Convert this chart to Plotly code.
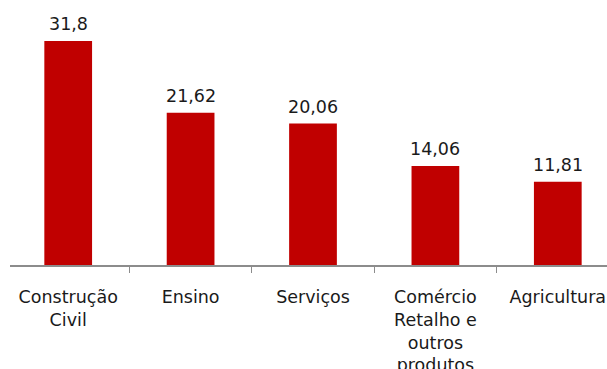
import plotly.graph_objects as go

categories = ["Construção<br>Civil", "Ensino", "Serviços", "Comércio<br>Retalho e<br>outros<br>produtos", "Agricultura"]
values = [31.8, 21.62, 20.06, 14.06, 11.81]
value_labels = ["31,8", "21,62", "20,06", "14,06", "11,81"]

FONT = "DejaVu Sans"

fig = go.Figure()
fig.add_trace(go.Bar(
    x=categories, y=values,
    marker=dict(color="#C00000", line=dict(width=0)),
    width=0.39, hoverinfo="skip",
))
for c, v, t in zip(categories, values, value_labels):
    fig.add_annotation(x=c, y=v, text=t, showarrow=False, yanchor="bottom",
                       yshift=5, font=dict(family=FONT, size=17.5, color="#1a1a1a"))

fig.update_layout(
    width=607, height=369,
    margin=dict(l=9.5, r=0, t=0, b=104),
    paper_bgcolor="white", plot_bgcolor="white",
    showlegend=False,
    font=dict(family=FONT, size=17.5, color="#1a1a1a"),
    xaxis=dict(
        type="category", range=[-0.4755, 4.402], automargin=False,
        showline=True, linecolor="#8c8c8c", linewidth=2,
        ticks="outside", tickson="boundaries", ticklen=6, tickcolor="#8c8c8c", tickwidth=1,
        showgrid=False, ticklabelstandoff=15,
        tickfont=dict(family=FONT, size=17.5, color="#1a1a1a"),
    ),
    yaxis=dict(range=[0, 37.6], visible=False, showgrid=False, zeroline=False, automargin=False),
)

fig.write_html("out.html")
